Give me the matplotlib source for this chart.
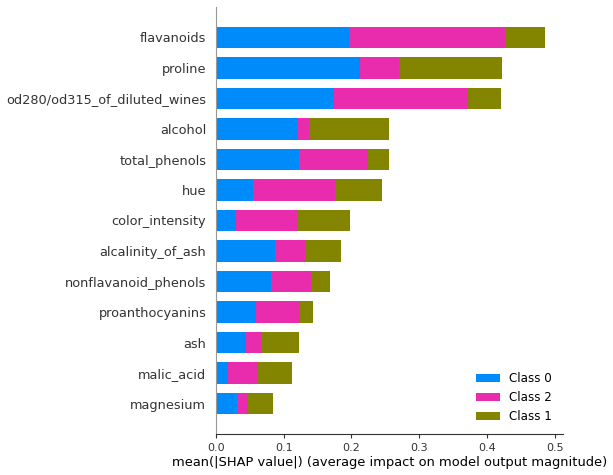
import matplotlib
matplotlib.use("Agg")
import matplotlib.pyplot as plt
import numpy as np

# features, top to bottom
features = ["flavanoids", "proline", "od280/od315_of_diluted_wines", "alcohol",
            "total_phenols", "hue", "color_intensity", "alcalinity_of_ash",
            "nonflavanoid_phenols", "proanthocyanins", "ash", "malic_acid", "magnesium"]

# mean |SHAP| per class, stacked in order Class 0, Class 2, Class 1
class0 = [0.196, 0.212, 0.174, 0.121, 0.123, 0.055, 0.029, 0.087, 0.081, 0.059, 0.044, 0.017, 0.031]
class2 = [0.231, 0.058, 0.198, 0.016, 0.101, 0.121, 0.091, 0.045, 0.059, 0.064, 0.023, 0.045, 0.016]
class1 = [0.059, 0.153, 0.049, 0.119, 0.032, 0.069, 0.078, 0.053, 0.028, 0.020, 0.056, 0.050, 0.037]

series = [("Class 0", class0, "#008bfb"),
          ("Class 2", class2, "#e92bad"),
          ("Class 1", class1, "#838500")]

dpi = 100
fig = plt.figure(figsize=(613 / dpi, 475 / dpi), dpi=dpi)
ax = fig.add_axes([216 / 613, 1 - 434 / 475, (562.7 - 216) / 613, (434 - 7) / 475])

n = len(features)
y = np.arange(n)[::-1]
left = np.zeros(n)
for name, vals, col in series:
    vals = np.array(vals)
    ax.barh(y, vals, 0.7, left=left, color=col, label=name)
    left += vals

ax.set_ylim(-1, n)
ax.set_xlim(0, 0.512)
ax.set_yticks(y)
ax.set_yticklabels(features, fontsize=9.3, color="#333333")
ax.tick_params("y", length=0, pad=7)
ax.tick_params("x", labelsize=8, colors="#333333", length=3)
ax.set_xticks([0, 0.1, 0.2, 0.3, 0.4, 0.5])
ax.set_xticklabels(["0.0", "0.1", "0.2", "0.3", "0.4", "0.5"])

ax.spines["top"].set_visible(False)
ax.spines["right"].set_visible(False)
ax.spines["left"].set_color("#999999")
ax.spines["bottom"].set_color("#333333")

ax.set_xlabel("mean(|SHAP value|) (average impact on model output magnitude)",
              fontsize=9.4, color="#000000", labelpad=2)
ax.legend(frameon=False, fontsize=8.6, loc="lower right")

fig.savefig("out.png", dpi=dpi)
